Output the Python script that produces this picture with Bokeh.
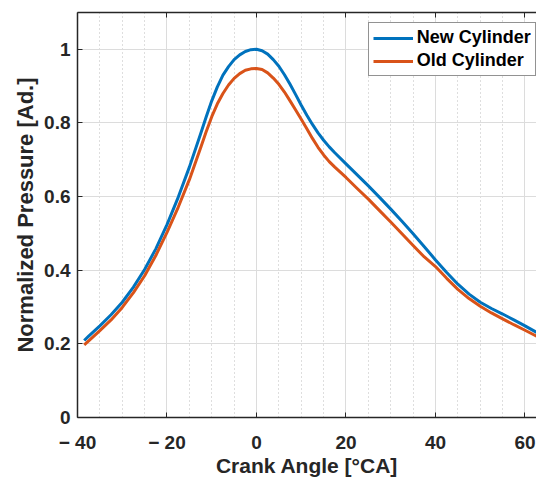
from bokeh.plotting import figure
from bokeh.models import LinearAxis, FixedTicker, Range1d, Legend, LegendItem
from bokeh.embed import file_html
from bokeh.resources import INLINE

# crank angle [deg CA] and normalized pressure
crank_angle = [-38.5, -37.5, -35, -32.5, -30, -27.5, -25, -22.5, -20, -17.5,
               -15, -12.5, -11.25, -10, -8.75, -7.5, -6.25, -5, -3.75, -2.5,
               -1.25, 0, 1.25, 2.5, 3.75, 5, 6.25, 7.5, 8.75, 10,
               11.25, 12.5, 13.75, 15, 16.25, 17.5, 20, 22.5, 25, 27.5,
               30, 32.5, 35, 37.5, 40, 42.5, 45, 47.5, 50, 52.5,
               55, 57.5, 60, 62.6]
new_cyl = [0.209, 0.221, 0.249, 0.279, 0.313, 0.354, 0.402, 0.458, 0.524, 0.598,
           0.680, 0.770, 0.816, 0.860, 0.898, 0.930, 0.953, 0.972, 0.985, 0.994,
           0.999, 1.000, 0.996, 0.987, 0.972, 0.954, 0.931, 0.905, 0.877, 0.848,
           0.821, 0.796, 0.773, 0.753, 0.735, 0.719, 0.689, 0.659, 0.629, 0.598,
           0.566, 0.533, 0.499, 0.464, 0.428, 0.394, 0.362, 0.335, 0.313, 0.296,
           0.281, 0.265, 0.249, 0.231]
old_cyl = [0.197, 0.208, 0.236, 0.265, 0.299, 0.339, 0.385, 0.440, 0.503, 0.571,
           0.646, 0.732, 0.776, 0.817, 0.852, 0.880, 0.903, 0.921, 0.934, 0.943,
           0.947, 0.948, 0.945, 0.936, 0.922, 0.905, 0.884, 0.860, 0.835, 0.810,
           0.784, 0.758, 0.734, 0.713, 0.695, 0.680, 0.652, 0.622, 0.593, 0.562,
           0.531, 0.499, 0.467, 0.436, 0.410, 0.378, 0.348, 0.323, 0.302, 0.284,
           0.268, 0.252, 0.237, 0.221]

x_ticks = [-40, -20, 0, 20, 40, 60]
x_tick_labels = ["\u2212 40", "\u2212 20", "0", "20", "40", "60"]
x_minor = [-35, -30, -25, -15, -10, -5, 5, 10, 15, 25, 30, 35, 45, 50, 55]
y_ticks = [0, 0.2, 0.4, 0.6, 0.8, 1]
y_tick_labels = ["0", "0.2", "0.4", "0.6", "0.8", "1"]

FONT = "Liberation Sans"
DARK = "#262626"

p = figure(frame_width=459, frame_height=405,
           x_range=Range1d(-40, 62.57), y_range=Range1d(0, 1.1),
           min_border_left=77, min_border_top=12, min_border_right=0,
           min_border_bottom=0,
           x_axis_label="Crank Angle [\u00b0CA]",
           y_axis_label="Normalized Pressure [Ad.]",
           output_backend="svg", toolbar_location=None)
p.outline_line_color = None

top = LinearAxis(major_label_text_font_size="0px", major_label_standoff=0)
p.add_layout(top, "above")

bottom = p.below[0]
left = p.left[0]

p.xaxis.ticker = FixedTicker(ticks=x_ticks, minor_ticks=x_minor)
left.ticker = FixedTicker(ticks=y_ticks)
bottom.major_label_overrides = dict(zip(x_ticks, x_tick_labels))
left.major_label_overrides = dict(zip(y_ticks, y_tick_labels))
top.major_label_overrides = {t: "" for t in x_ticks}

for ax in [bottom, left, top]:
    ax.axis_line_color = DARK
    ax.axis_line_width = 1.5
    ax.major_tick_line_color = DARK
    ax.major_tick_in = 5
    ax.major_tick_out = 0
    ax.minor_tick_line_color = None
    ax.major_label_text_font = FONT
    ax.major_label_text_font_style = "bold"
    ax.major_label_text_color = DARK
    ax.axis_label_text_font = FONT
    ax.axis_label_text_font_style = "bold"
    ax.axis_label_text_color = DARK
    ax.axis_label_text_font_size = "22px"

bottom.axis_label_text_font_size = "21px"
bottom.major_label_text_font_size = "19px"
bottom.major_label_standoff = 10
bottom.axis_label_standoff = -2
left.major_label_text_font_size = "19px"
left.major_label_standoff = 7
left.axis_label_standoff = 3

p.grid.grid_line_color = "#dcdcdc"
p.grid.grid_line_width = 1
p.xgrid.minor_grid_line_color = "#bdbdbd"
p.xgrid.minor_grid_line_dash = "1 3"
p.ygrid.minor_grid_line_color = None

r_new = p.line(crank_angle, new_cyl, line_color="#0072BD", line_width=3,
               line_join="round")
r_old = p.line(crank_angle, old_cyl, line_color="#D95319", line_width=3,
               line_join="round")

legend = Legend(items=[LegendItem(label="New Cylinder", renderers=[r_new]),
                       LegendItem(label="Old Cylinder", renderers=[r_old])],
                location=(290.7, 341))
legend.border_line_color = DARK
legend.border_line_width = 1
legend.background_fill_color = "white"
legend.background_fill_alpha = 1
legend.label_text_font = FONT
legend.label_text_font_style = "bold"
legend.label_text_font_size = "18px"
legend.label_text_color = "black"
legend.glyph_width = 40
legend.glyph_height = 20
legend.label_height = 20
legend.label_standoff = 4
legend.spacing = 2
legend.padding = 4
legend.margin = 0
p.add_layout(legend)

open("out.html", "w").write(file_html(p, INLINE))
